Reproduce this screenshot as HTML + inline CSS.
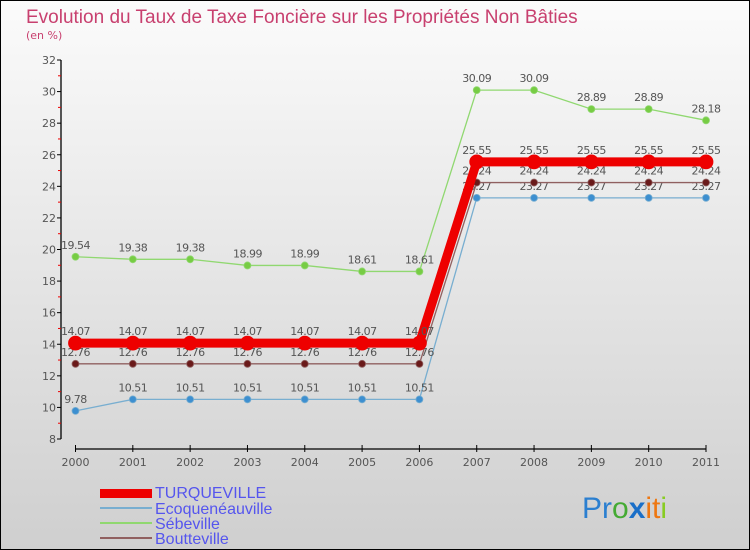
<!DOCTYPE html>
<html><head><meta charset="utf-8"><style>
body{margin:0;width:750px;height:550px;overflow:hidden}
svg{display:block;font-family:"DejaVu Sans","Liberation Sans",sans-serif}
</style></head><body>
<svg id="c" width="750" height="550">
<defs><linearGradient id="bg" x1="0" y1="0" x2="0" y2="1"><stop offset="0" stop-color="#fbfbfb"/><stop offset="1" stop-color="#cfcfcf"/></linearGradient></defs>
<rect x="0.5" y="0.5" width="749" height="549" fill="url(#bg)" stroke="#000"/>
<text x="26" y="23" font-size="19" fill="#c8406f" style="font-family:'Liberation Sans',sans-serif">Evolution du Taux de Taxe Foncière sur les Propriétés Non Bâties</text>
<text x="26" y="39" font-size="11" fill="#c8406f">(en %)</text>
<g id="axes"></g><g id="series"></g>
<g font-size="16" fill="#5555ee" style="font-family:'Liberation Sans',sans-serif">
<rect x="100" y="489" width="52" height="9" fill="#ee0000"/>
<text x="155" y="498">TURQUEVILLE</text>
<rect x="100" y="507" width="52" height="2" fill="#78aed0"/>
<text x="155" y="514">Ecoquenéauville</text>
<rect x="100" y="522" width="52" height="2" fill="#90d870"/>
<text x="155" y="529">Sébeville</text>
<rect x="100" y="537" width="52" height="2" fill="#906060"/>
<text x="155" y="544">Boutteville</text>
</g>
<text x="582" y="518" font-size="30" style="font-family:'Liberation Sans',sans-serif"><tspan fill="#2b7fd0">Pr</tspan><tspan fill="#44aa33">o</tspan><tspan fill="#1a6fc8" font-weight="bold">x</tspan><tspan fill="#ee7711">it</tspan><tspan fill="#88cc22">i</tspan></text>
</svg>
<script>
const years=[2000,2001,2002,2003,2004,2005,2006,2007,2008,2009,2010,2011];
const yTicks=[8,10,12,14,16,18,20,22,24,26,28,30,32];
const turqueville=[14.07,14.07,14.07,14.07,14.07,14.07,14.07,25.55,25.55,25.55,25.55,25.55];
const ecoqueneauville=[9.78,10.51,10.51,10.51,10.51,10.51,10.51,23.27,23.27,23.27,23.27,23.27];
const sebeville=[19.54,19.38,19.38,18.99,18.99,18.61,18.61,30.09,30.09,28.89,28.89,28.18];
const boutteville=[12.76,12.76,12.76,12.76,12.76,12.76,12.76,24.24,24.24,24.24,24.24,24.24];
const NS='http://www.w3.org/2000/svg';
const X=i=>75.5+i*(706-75.5)/11;
const Y=v=>439-(v-8)*(379/24);
function mk(t,a,p){const e=document.createElementNS(NS,t);for(const k in a)e.setAttribute(k,a[k]);p.appendChild(e);return e;}
const ax=document.getElementById('axes');
let e=mk('line',{x1:61,y1:Y(32),x2:61,y2:Y(8),stroke:'#000','stroke-width':1.3},ax);


yTicks.forEach(v=>{
 let t=mk('line',{x1:57,x2:61,y1:Y(v),y2:Y(v),stroke:'#000'},ax);
 
 
 let m=mk('line',{x1:58,x2:61,y1:Y(v+1),y2:Y(v+1),stroke:'#e00'},ax);
 if(v==32)m.remove();
 let l=mk('text',{x:56,y:Y(v)+4,'text-anchor':'end','font-size':11,fill:'#555'},ax);
 l.textContent=v;
 
 
});
e=mk('line',{x1:X(0),y1:449,x2:X(11),y2:449,stroke:'#000','stroke-width':1.3},ax);


years.forEach((y,i)=>{
 mk('line',{x1:X(i),x2:X(i),y1:445,y2:452,stroke:'#000'},ax);
 let l=mk('text',{x:X(i),y:466,'text-anchor':'middle','font-size':11,fill:'#555'},ax);
 l.textContent=y;
 
 
});
const sg=document.getElementById('series');
function draw(name,vals,color,dot,w,r){
 const g=mk('g',{},sg);
 
 
 mk('polyline',{points:vals.map((v,i)=>X(i)+','+Y(v)).join(' '),fill:'none',stroke:color,'stroke-width':w},g);
 vals.forEach((v,i)=>{
  const c=mk('circle',{cx:X(i),cy:Y(v),r:r,fill:dot,stroke:color,'stroke-width':0.8},g);
  
  
  const t=mk('text',{x:X(i),y:Y(v)-8,'text-anchor':'middle','font-size':11,fill:'#555','letter-spacing':'-0.5'},g);
  t.textContent=v;
  
  
 });
}
draw('sebeville',sebeville,'#90d870','#77cc44',1.3,3.5);
draw('ecoqueneauville',ecoqueneauville,'#78aed0','#3d8fd0',1.3,3.5);
draw('boutteville',boutteville,'#906060','#6a1a1a',1.3,3.5);
draw('turqueville',turqueville,'#ee0000','#ee0000',9,7);
</script>
</body></html>
